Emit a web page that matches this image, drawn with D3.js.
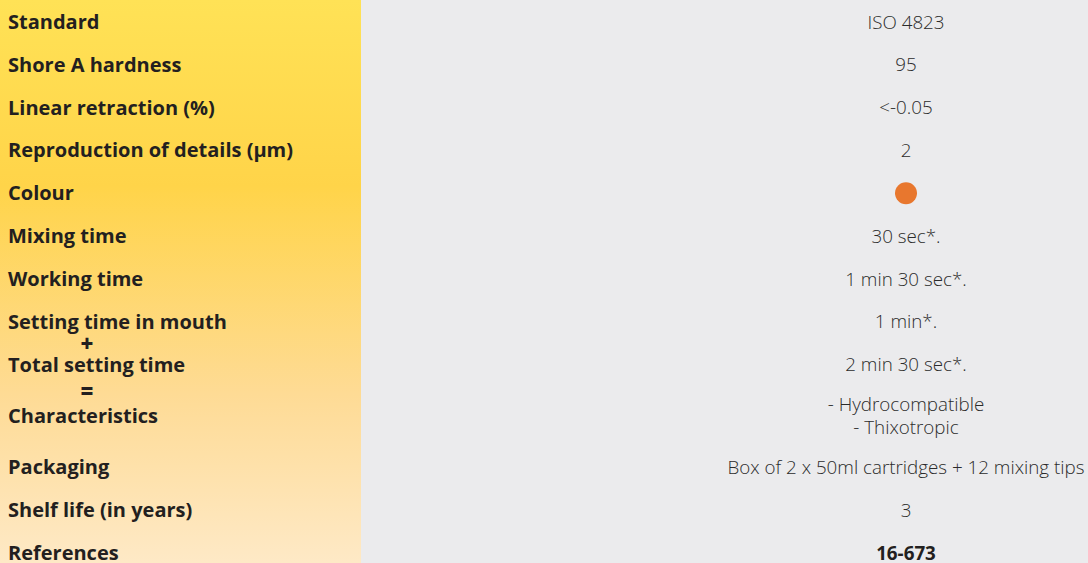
<!DOCTYPE html>
<html>
<head>
<meta charset="utf-8">
<script src="https://cdn.jsdelivr.net/npm/d3@7"></script>
<style>
  html, body { margin: 0; padding: 0; background: #ebebed; }
  svg { display: block; }
</style>
</head>
<body>
<div id="chart"></div>
<script>
// Chart data
var labels = [
  "Standard", "Shore A hardness", "Linear retraction (%)", "Reproduction of details (µm)",
  "Colour", "Mixing time", "Working time", "Setting time in mouth", "Total setting time",
  "Characteristics", "Packaging", "Shelf life (in years)", "References"
];
var values = [
  ["ISO 4823"], ["95"], ["<-0.05"], ["2"],
  [], ["30 sec*."], ["1 min 30 sec*."], ["1 min*."], ["2 min 30 sec*."],
  ["- Hydrocompatible", "- Thixotropic"],
  ["Box of 2 x 50ml cartridges + 12 mixing tips"], ["3"], ["16-673"]
];
var colourSwatch = "#e8772e";
var operators = ["+", "="]; // between setting, total setting and characteristics

var width = 1088;
var height = 563;
var panelWidth = 361;
var valueX = 906;
var font = "'Open Sans', sans-serif";

var svg = d3.select("#chart")
            .append("svg")
            .attr("width", width)
            .attr("height", height);

// Left panel gradient
var grad = svg.append("defs").append("linearGradient")
              .attr("id", "panel")
              .attr("x1", 0).attr("y1", 0).attr("x2", 0).attr("y2", 1);
grad.append("stop").attr("offset", "0%").attr("stop-color", "#ffe256");
grad.append("stop").attr("offset", "33%").attr("stop-color", "#ffd449");
grad.append("stop").attr("offset", "70%").attr("stop-color", "#fedb95");
grad.append("stop").attr("offset", "100%").attr("stop-color", "#fee9c6");

svg.append("rect")
   .attr("width", width).attr("height", height)
   .attr("fill", "#ebebed");
svg.append("rect")
   .attr("width", panelWidth).attr("height", height)
   .attr("fill", "url(#panel)");

// Row positions: rows with extra value lines get a bit more room
var lineCount = values.map(function(v) { return Math.max(1, v.length); });
var offsets = [0];
for (var i = 1; i < labels.length; i++) {
  offsets.push(offsets[i - 1] + 1 + 0.2 * ((lineCount[i - 1] - 1) + (lineCount[i] - 1)));
}
var yScale = d3.scaleLinear()
               .domain([0, offsets[offsets.length - 1]])
               .range([22, 553]);

var rows = svg.selectAll("g.row")
              .data(labels)
              .enter()
              .append("g")
              .attr("class", "row")
              .attr("transform", function(d, i) { return "translate(0," + yScale(offsets[i]) + ")"; });

rows.append("text")
    .attr("x", 8)
    .attr("dy", "0.35em")
    .attr("font-family", font)
    .attr("font-weight", 700)
    .attr("font-size", 20)
    .attr("fill", "#231f20")
    .text(function(d) { return d; });

rows.each(function(d, i) {
  var g = d3.select(this);
  var lines = values[i];
  if (lines.length === 0) {
    g.append("circle")
     .attr("cx", valueX).attr("cy", 0).attr("r", 11)
     .attr("fill", colourSwatch);
    return;
  }
  var last = i === labels.length - 1;
  g.selectAll("text.val")
   .data(lines)
   .enter()
   .append("text")
   .attr("class", "val")
   .attr("x", valueX)
   .attr("y", function(t, j) { return (j - (lines.length - 1) / 2) * 23; })
   .attr("dy", "0.35em")
   .attr("text-anchor", "middle")
   .attr("font-family", font)
   .attr("font-weight", last ? 700 : 300)
   .attr("font-size", 18.8)
   .attr("fill", last ? "#231f20" : "#2b2b2b")
   .text(function(t) { return t; });
});

// Operators between the setting rows
var iSet = labels.indexOf("Setting time in mouth");
svg.selectAll("text.op")
   .data(operators)
   .enter()
   .append("text")
   .attr("class", "op")
   .attr("x", 87)
   .attr("y", function(d, k) { return (yScale(offsets[iSet + k]) + yScale(offsets[iSet + k + 1])) / 2 + 1; })
   .attr("dy", "0.35em")
   .attr("text-anchor", "middle")
   .attr("font-family", font)
   .attr("font-weight", 800)
   .attr("font-size", 22)
   .attr("fill", "#231f20")
   .text(function(d) { return d; });
</script>
</body>
</html>
